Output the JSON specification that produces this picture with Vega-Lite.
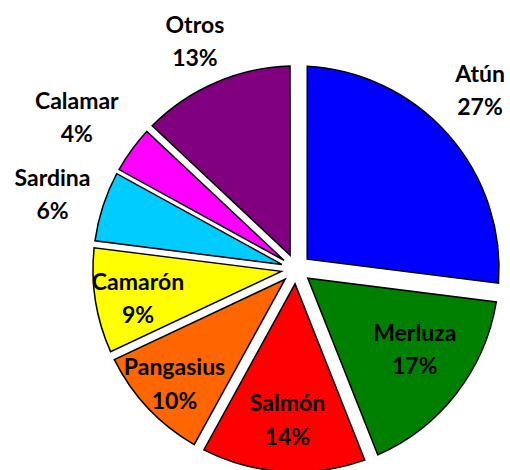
{
  "$schema": "https://vega.github.io/schema/vega-lite/v6.json",
  "autosize": {"type": "none"},
  "padding": {"left": 82, "top": 68, "right": 0, "bottom": 0},
  "width": 428,
  "height": 402,
  "background": "white",
  "view": {"stroke": null},
  "config": {"text": {"font": "Lato", "fontWeight": "bold", "fontSize": 23, "fill": "black"}},
  "data": {
    "values": [
      {"nombre": "Atún", "share": 0.27, "orden": 1},
      {"nombre": "Merluza", "share": 0.17, "orden": 2},
      {"nombre": "Salmón", "share": 0.14, "orden": 3},
      {"nombre": "Pangasius", "share": 0.10, "orden": 4},
      {"nombre": "Camarón", "share": 0.09, "orden": 5},
      {"nombre": "Sardina", "share": 0.06, "orden": 6},
      {"nombre": "Calamar", "share": 0.04, "orden": 7},
      {"nombre": "Otros", "share": 0.13, "orden": 8}
    ]
  },
  "encoding": {
    "theta": {"field": "share", "type": "quantitative", "stack": true},
    "order": {"field": "orden", "type": "quantitative"}
  },
  "layer": [
    {
      "mark": {
        "type": "arc",
        "outerRadius": 203,
        "innerRadius": 14.9,
        "stroke": "black",
        "strokeWidth": 1.5,
        "padAngle": {"expr": "2*asin(15*sin(abs(datum.share_end - datum.share_start)*PI)/sqrt(14.9*14.9 + 203*203))"}
      },
      "encoding": {
        "color": {
          "field": "nombre",
          "type": "nominal",
          "legend": null,
          "scale": {
            "domain": ["Atún", "Merluza", "Salmón", "Pangasius", "Camarón", "Sardina", "Calamar", "Otros"],
            "range": ["#0000FF", "#008000", "#FF0000", "#FF6600", "#FFFF00", "#00CCFF", "#FF00FF", "#800080"]
          }
        }
      }
    },
    {"mark": {"type": "text", "radius": 256, "dx": -8, "dy": -25},
     "encoding": {"text": {"condition": {"test": "datum.nombre == 'Atún'", "field": "nombre"}, "value": ""}}},
    {"mark": {"type": "text", "radius": 256, "dx": -8, "dy": 8},
     "encoding": {"text": {"condition": {"test": "datum.nombre == 'Atún'", "field": "share", "format": ".0%"}, "value": ""}}},

    {"mark": {"type": "text", "radius": 144, "dx": 5, "dy": -23},
     "encoding": {"text": {"condition": {"test": "datum.nombre == 'Merluza'", "field": "nombre"}, "value": ""}}},
    {"mark": {"type": "text", "radius": 144, "dx": 5, "dy": 10},
     "encoding": {"text": {"condition": {"test": "datum.nombre == 'Merluza'", "field": "share", "format": ".0%"}, "value": ""}}},

    {"mark": {"type": "text", "radius": 152, "dx": 1, "dy": -17},
     "encoding": {"text": {"condition": {"test": "datum.nombre == 'Salmón'", "field": "nombre"}, "value": ""}}},
    {"mark": {"type": "text", "radius": 152, "dx": 1, "dy": 17},
     "encoding": {"text": {"condition": {"test": "datum.nombre == 'Salmón'", "field": "share", "format": ".0%"}, "value": ""}}},

    {"mark": {"type": "text", "radius": 168, "dx": 1, "dy": -16},
     "encoding": {"text": {"condition": {"test": "datum.nombre == 'Pangasius'", "field": "nombre"}, "value": ""}}},
    {"mark": {"type": "text", "radius": 168, "dx": 1, "dy": 18},
     "encoding": {"text": {"condition": {"test": "datum.nombre == 'Pangasius'", "field": "share", "format": ".0%"}, "value": ""}}},

    {"mark": {"type": "text", "radius": 161, "dx": 1, "dy": -11},
     "encoding": {"text": {"condition": {"test": "datum.nombre == 'Camarón'", "field": "nombre"}, "value": ""}}},
    {"mark": {"type": "text", "radius": 161, "dx": 1, "dy": 22},
     "encoding": {"text": {"condition": {"test": "datum.nombre == 'Camarón'", "field": "share", "format": ".0%"}, "value": ""}}},

    {"mark": {"type": "text", "radius": 255, "dx": -1, "dy": -11},
     "encoding": {"text": {"condition": {"test": "datum.nombre == 'Sardina'", "field": "nombre"}, "value": ""}}},
    {"mark": {"type": "text", "radius": 255, "dx": -1, "dy": 22},
     "encoding": {"text": {"condition": {"test": "datum.nombre == 'Sardina'", "field": "share", "format": ".0%"}, "value": ""}}},

    {"mark": {"type": "text", "radius": 266, "dx": -4, "dy": -11},
     "encoding": {"text": {"condition": {"test": "datum.nombre == 'Calamar'", "field": "nombre"}, "value": ""}}},
    {"mark": {"type": "text", "radius": 266, "dx": -4, "dy": 22},
     "encoding": {"text": {"condition": {"test": "datum.nombre == 'Calamar'", "field": "share", "format": ".0%"}, "value": ""}}},

    {"mark": {"type": "text", "radius": 247, "dx": -3, "dy": -16},
     "encoding": {"text": {"condition": {"test": "datum.nombre == 'Otros'", "field": "nombre"}, "value": ""}}},
    {"mark": {"type": "text", "radius": 247, "dx": -3, "dy": 17},
     "encoding": {"text": {"condition": {"test": "datum.nombre == 'Otros'", "field": "share", "format": ".0%"}, "value": ""}}}
  ]
}
